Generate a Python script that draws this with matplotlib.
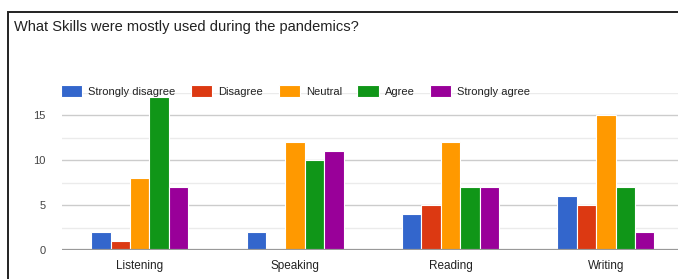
import matplotlib
matplotlib.use("Agg")
import matplotlib.pyplot as plt
import numpy as np
from matplotlib.patches import Rectangle
from matplotlib.ticker import MultipleLocator

plt.rcParams["font.family"] = ["Liberation Sans", "DejaVu Sans"]

# --- data --------------------------------------------------------------------
skills = ["Listening", "Speaking", "Reading", "Writing"]
responses = ["Strongly disagree", "Disagree", "Neutral", "Agree", "Strongly agree"]
strongly_disagree = [2, 2, 4, 6]
disagree = [1, 0, 5, 5]
neutral = [8, 12, 12, 15]
agree = [17, 10, 7, 7]
strongly_agree = [7, 11, 7, 2]
colors = ["#3366cc", "#dc3912", "#ff9900", "#109618", "#990099"]

series = [strongly_disagree, disagree, neutral, agree, strongly_agree]

W, H = 678, 279
fig = plt.figure(figsize=(W / 100, H / 100), dpi=100)
fig.patch.set_facecolor("white")

# axes spans past the right edge, like the cropped screenshot
left_px, right_px, top_px, bottom_px = 62, 683.5, 92.5, 250
ax = fig.add_axes([left_px / W, 1 - bottom_px / H,
                   (right_px - left_px) / W, (bottom_px - top_px) / H])

x = np.arange(len(skills))
bw = 0.125
for i, (name, vals) in enumerate(zip(responses, series)):
    offs = (i - 2) * bw
    ax.bar(x + offs, vals, width=bw, color=colors[i], edgecolor="white",
           linewidth=0.8, label=name, zorder=3)

ax.set_xlim(-0.5, len(skills) - 0.5)
ax.set_ylim(0, 17.5)
ax.yaxis.set_major_locator(MultipleLocator(5))
ax.yaxis.set_minor_locator(MultipleLocator(2.5))
ax.grid(axis="y", which="major", color="#cccccc", linewidth=1.0, zorder=0)
ax.grid(axis="y", which="minor", color="#ebebeb", linewidth=1.0, zorder=0)
ax.axhline(0, color="#999999", linewidth=1.6, zorder=4)
for s in ax.spines.values():
    s.set_visible(False)
ax.tick_params(axis="both", which="both", length=0)
ax.tick_params(axis="y", labelsize=8, labelcolor="#444444", pad=12)
ax.tick_params(axis="x", labelsize=8.5, labelcolor="#222222", pad=7)
ax.set_xticks(x)
ax.set_xticklabels(skills)

fig.text(14 / W, 1 - 27 / H, "What Skills were mostly used during the pandemics?",
         fontsize=10.5, color="#212121", va="center", ha="left")

fig.legend(loc="center left", bbox_to_anchor=(61 / W, 1 - 91 / H), ncol=5,
           frameon=False, fontsize=8, handlelength=1.9, handleheight=1.3,
           handletextpad=0.55, columnspacing=1.4, borderaxespad=0, borderpad=0,
           labelcolor="#222222")

# outer card border (cropped at right and bottom)
fig.patches.append(Rectangle((8 / W, -0.2), 1.5, 1 - 12 / H + 0.2,
                             transform=fig.transFigure, fill=False,
                             edgecolor="#222222", linewidth=1.4))

fig.savefig("out.png", dpi=100)
